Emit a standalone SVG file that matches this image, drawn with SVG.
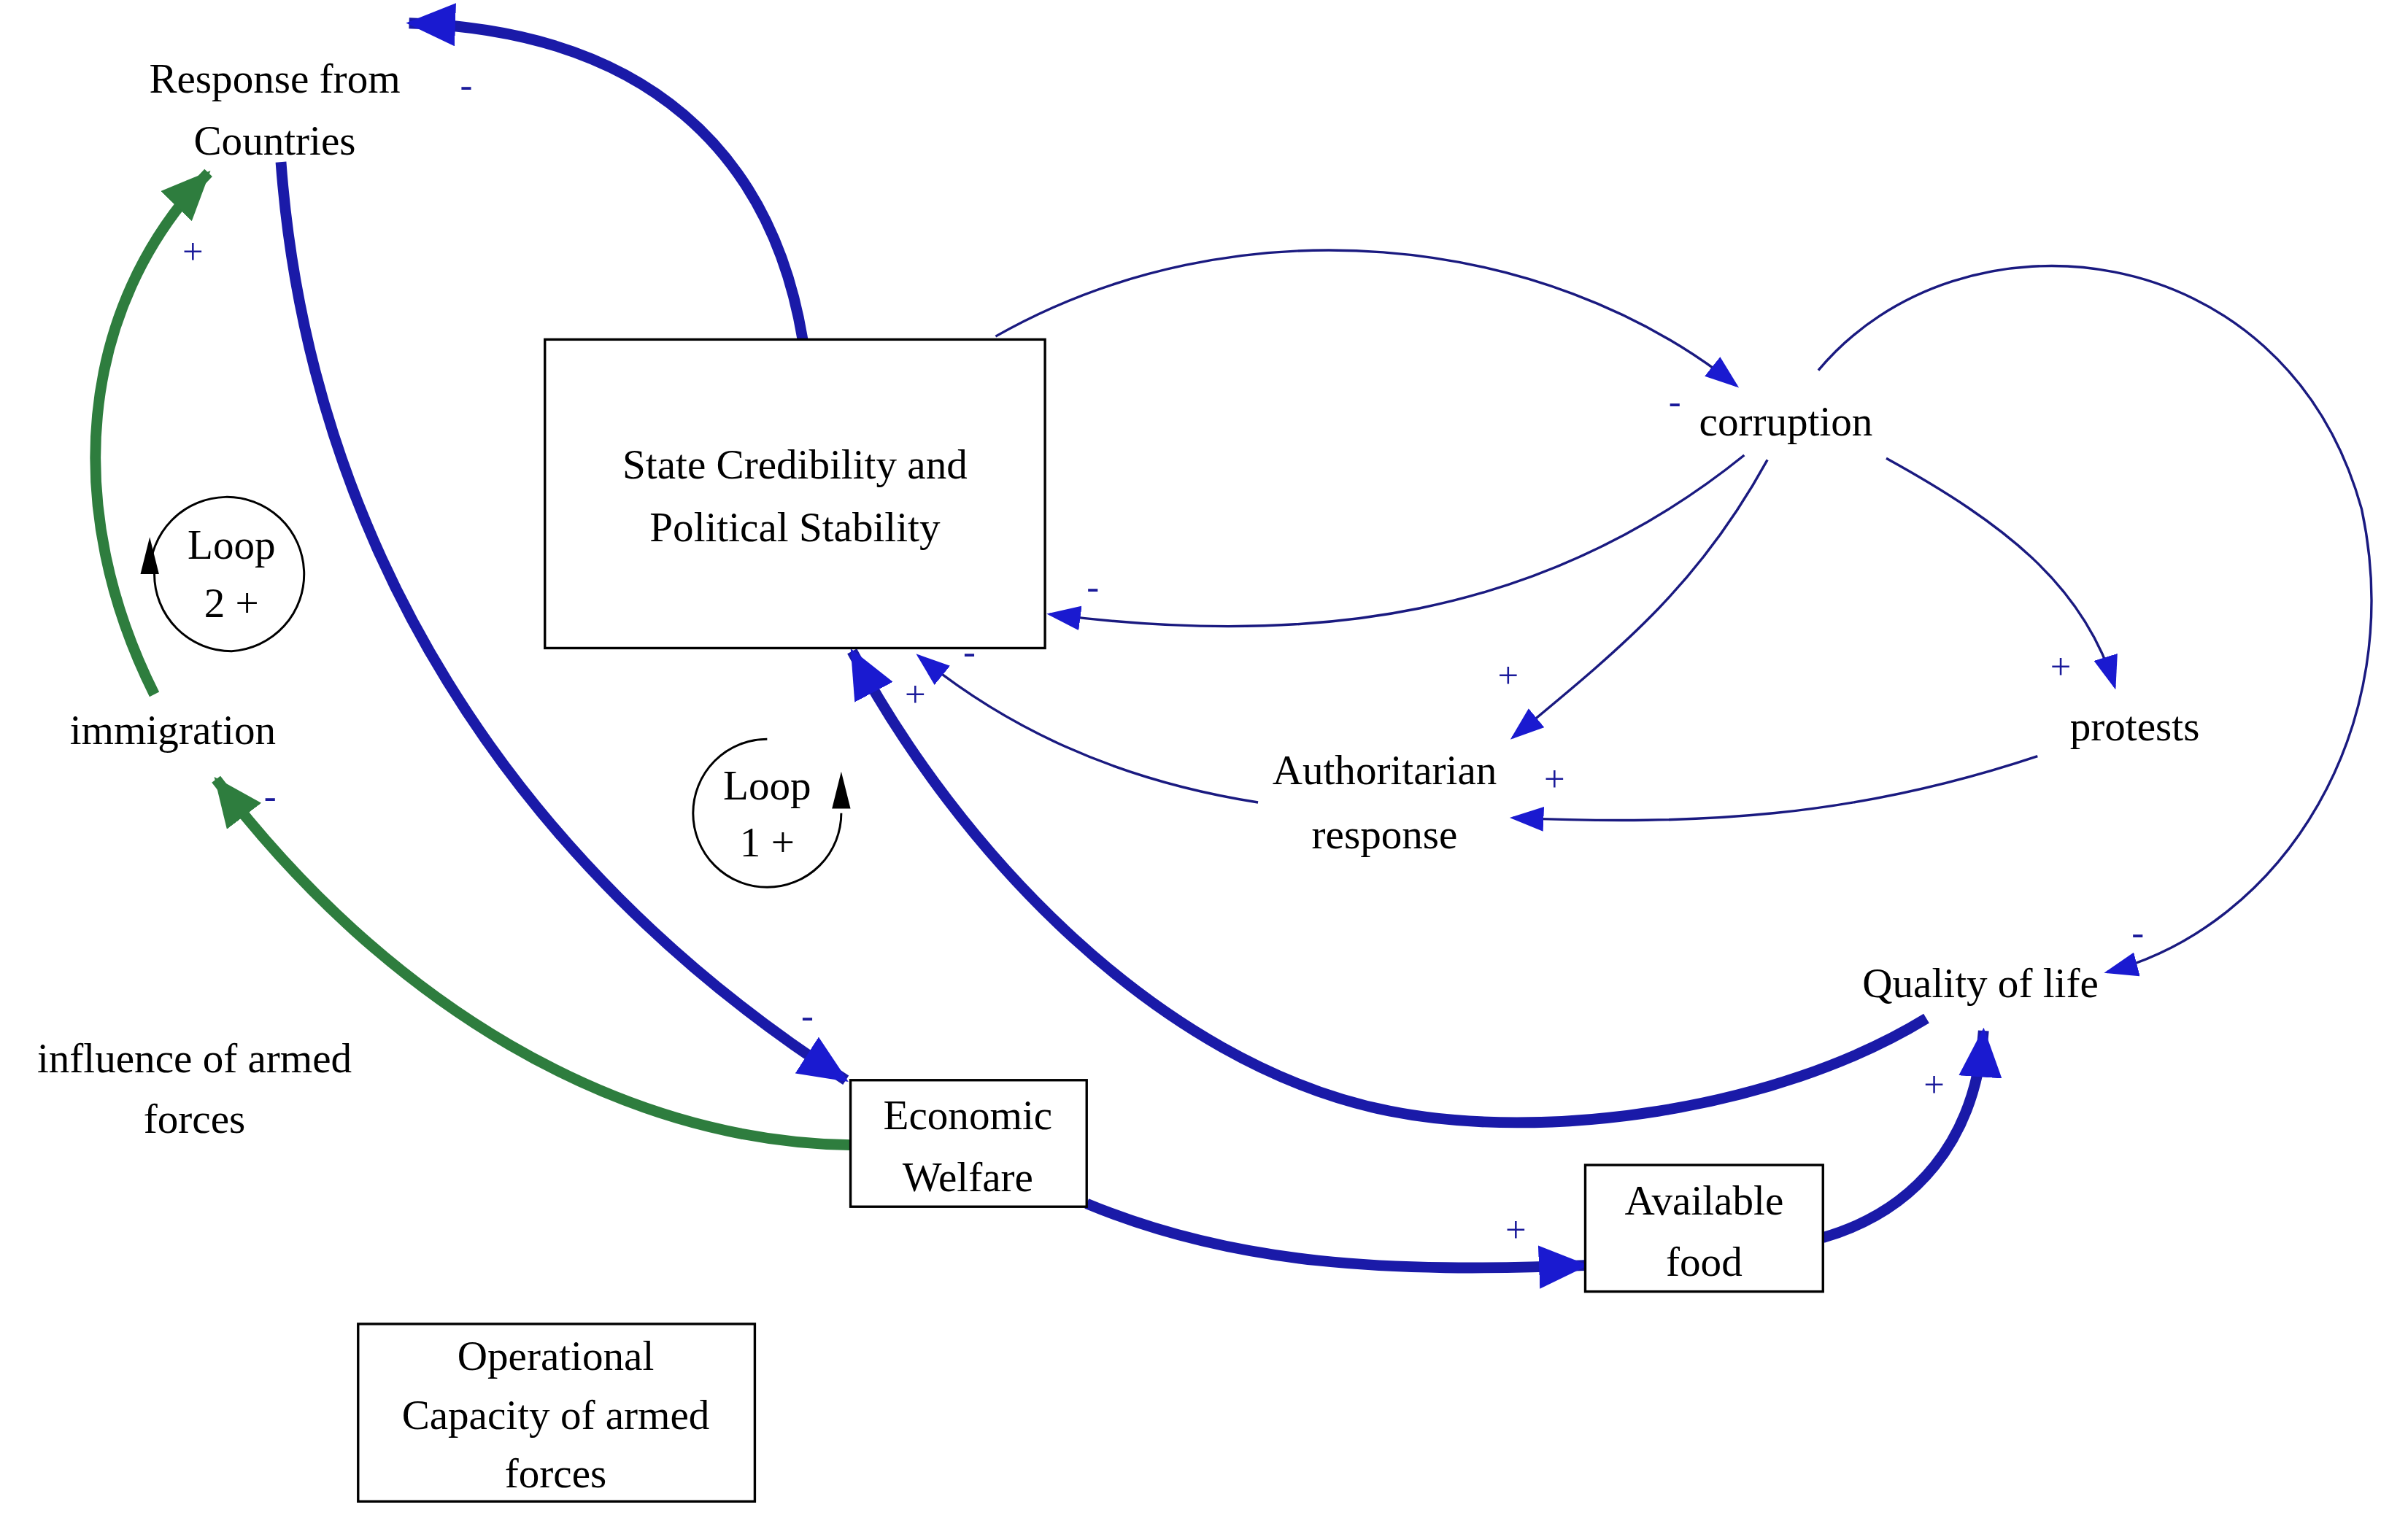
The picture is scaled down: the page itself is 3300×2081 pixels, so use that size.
<svg xmlns="http://www.w3.org/2000/svg" width="3300" height="2081" viewBox="0 0 3300 2081">
<defs>
<style>
text{font-family:"Liberation Serif",serif;font-size:27px;fill:#000;text-anchor:middle}
.s{fill:#1a1a9a;font-size:24px}
.b{fill:#fff;stroke:#000;stroke-width:1.6}
.tb{fill:none;stroke:#1a1aa8;stroke-width:7}
.tg{fill:none;stroke:#2e7d3e;stroke-width:7}
.tn{fill:none;stroke:#1a1a80;stroke-width:1.6}
.lp{fill:none;stroke:#000;stroke-width:1.4}
</style>
<marker id="ab" markerUnits="userSpaceOnUse" markerWidth="34" markerHeight="28" refX="30" refY="14" orient="auto"><path d="M0,0 L32,14 L0,28 Z" fill="#1a1ad0"/></marker>
<marker id="ag" markerUnits="userSpaceOnUse" markerWidth="34" markerHeight="28" refX="30" refY="14" orient="auto"><path d="M0,0 L32,14 L0,28 Z" fill="#2e7d3e"/></marker>
<marker id="an" markerUnits="userSpaceOnUse" markerWidth="22" markerHeight="16" refX="20" refY="8" orient="auto"><path d="M0,0 L22,8 L0,16 Z" fill="#1a1ad0"/></marker>
</defs>
<rect width="3300" height="2081" fill="#fff"/>
<g transform="scale(2.11538)">
<g id="connectors">
<path class="tb" marker-end="url(#ab)" d="M520,220 C500,100 420,20 265,15"/>
<path class="tb" marker-end="url(#ab)" d="M182,105 C200,350 330,560 548,700"/>
<path class="tg" marker-end="url(#ag)" d="M551,742 C400,740 250,650 140,505"/>
<path class="tg" marker-end="url(#ag)" d="M100,450 C40,330 50,200 135,112"/>
<path class="tb" marker-end="url(#ab)" d="M704,780 C800,820 900,825 1027,820"/>
<path class="tb" marker-end="url(#ab)" d="M1181,802 C1240,785 1280,740 1285,668"/>
<path class="tb" marker-end="url(#ab)" d="M1248,660 C1150,720 1000,740 900,720 C750,690 620,550 552,422"/>
<path class="tn" marker-end="url(#an)" d="M645,218 C800,130 1000,150 1125,250"/>
<path class="tn" marker-end="url(#an)" d="M1130,295 C1000,400 850,420 680,398"/>
<path class="tn" marker-end="url(#an)" d="M1145,298 C1100,380 1050,420 980,478"/>
<path class="tn" marker-end="url(#an)" d="M1222,297 C1300,340 1350,380 1370,445"/>
<path class="tn" marker-end="url(#an)" d="M1320,490 C1200,530 1100,535 980,530"/>
<path class="tn" marker-end="url(#an)" d="M815,520 C720,505 650,470 595,425"/>
<path class="tn" marker-end="url(#an)" d="M1178,240 C1270,130 1480,150 1530,330 C1560,470 1480,600 1365,630"/>
</g>
<g id="loop2"><path class="lp" d="M97,372 A50,50 0 1 1 150,422 A50,50 0 0 1 100,372"/><path d="M91,372 L97,348 L103,372 Z" fill="#000"/><text x="150" y="362">Loop</text><text x="150" y="400">2 +</text></g>
<g id="loop1"><path class="lp" d="M545,527 A48,48 0 1 1 497,479"/><path d="M539,524 L545,500 L551,524 Z" fill="#000"/><text x="497" y="518">Loop</text><text x="497" y="555">1 +</text></g>
<g id="response"><text x="178" y="60">Response from</text><text x="178" y="100">Countries</text><text class="s" x="302" y="63">-</text></g>
<g id="state"><rect class="b" x="353" y="220" width="324" height="200"/><text x="515" y="310">State Credibility and</text><text x="515" y="351">Political Stability</text></g>
<g id="corruption"><text x="1157" y="282">corruption</text><text class="s" x="1085" y="268">-</text></g>
<g id="protests"><text x="1383" y="480">protests</text><text class="s" x="1335" y="440">+</text></g>
<g id="authoritarian"><text x="897" y="508">Authoritarian</text><text x="897" y="550">response</text><text class="s" x="977" y="446">+</text><text class="s" x="1007" y="513">+</text></g>
<g id="quality"><text x="1283" y="646">Quality of life</text><text class="s" x="1385" y="612">-</text><text class="s" x="1253" y="711">+</text></g>
<g id="economic"><rect class="b" x="551" y="700" width="153" height="82"/><text x="627" y="732">Economic</text><text x="627" y="772">Welfare</text><text class="s" x="523" y="666">-</text></g>
<g id="food"><rect class="b" x="1027" y="755" width="154" height="82"/><text x="1104" y="787">Available</text><text x="1104" y="827">food</text><text class="s" x="982" y="805">+</text></g>
<g id="operational"><rect class="b" x="232" y="858" width="257" height="115"/><text x="360" y="888">Operational</text><text x="360" y="926">Capacity of armed</text><text x="360" y="964">forces</text></g>
<g id="immigration"><text x="112" y="482">immigration</text><text class="s" x="175" y="524">-</text><text class="s" x="125" y="171">+</text></g>
<g id="influence"><text x="126" y="695">influence of armed</text><text x="126" y="734">forces</text></g>
<text class="s" x="708" y="388">-</text><text class="s" x="628" y="430">-</text><text class="s" x="593" y="458">+</text>
</g>
</svg>
